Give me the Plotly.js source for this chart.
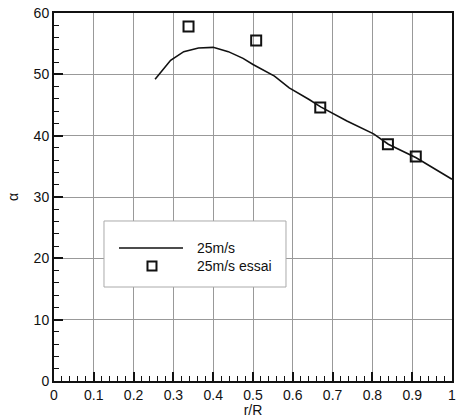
<!DOCTYPE html>
<html>
<head>
<meta charset="utf-8">
<script src="https://cdn.plot.ly/plotly-3.0.1.min.js"></script>
<style>html,body{margin:0;padding:0;background:#fff;}#chart{width:457px;height:418px;}</style>
</head>
<body>
<div id="chart"></div>
<script>
// Computed curve (25 m/s)
const curveR = [0.254, 0.293, 0.326, 0.363, 0.400, 0.438, 0.475, 0.500, 0.554, 0.591, 0.641, 0.670, 0.736, 0.803, 0.840, 0.910, 1.000];
const curveAlpha = [49.2, 52.3, 53.7, 54.3, 54.4, 53.7, 52.6, 51.6, 49.7, 47.8, 45.9, 44.7, 42.4, 40.3, 38.6, 36.4, 32.9];
// Experimental points (25 m/s essai)
const essaiR = [0.338, 0.508, 0.669, 0.839, 0.909];
const essaiAlpha = [57.8, 55.5, 44.6, 38.6, 36.6];
const xTicks = [0, 0.1, 0.2, 0.3, 0.4, 0.5, 0.6, 0.7, 0.8, 0.9, 1];
const xTickText = ['0', '0.1', '0.2', '0.3', '0.4', '0.5', '0.6', '0.7', '0.8', '0.9', '1'];
const yTicks = [0, 10, 20, 30, 40, 50, 60];
const legendNames = ['25m/s', '25m/s essai'];

const FAM = 'Liberation Sans, Arial, sans-serif';
const font = {family: FAM, size: 14, color: '#111'};

const traces = [
  {x: curveR, y: curveAlpha, mode: 'lines', name: legendNames[0],
   line: {color: '#111', width: 1.6}, showlegend: false},
  {x: essaiR, y: essaiAlpha, mode: 'markers', name: legendNames[1],
   marker: {symbol: 'square-open', size: 10, color: '#111', line: {width: 2, color: '#111'}}, showlegend: false}
];

const axisCommon = {
  showline: true, linecolor: '#111', linewidth: 2, mirror: true,
  showgrid: true, gridcolor: '#999', gridwidth: 1,
  zeroline: false, ticks: 'inside', ticklen: 9, tickwidth: 2, tickcolor: '#111',
  tickfont: font, ticklabeloverflow: 'allow'
};

// Custom legend box (paper coordinates)
const shapes = [
  {type: 'rect', xref: 'paper', yref: 'paper', x0: 0.1256, x1: 0.5829, y0: 0.2554, y1: 0.4348,
   line: {color: '#aaa', width: 1}, fillcolor: '#fff', layer: 'above'},
  {type: 'line', xref: 'paper', yref: 'paper', x0: 0.1633, x1: 0.3241, y0: 0.3614, y1: 0.3614,
   line: {color: '#111', width: 1.6}, layer: 'above'},
  {type: 'rect', xref: 'paper', yref: 'paper', x0: 0.2349, x1: 0.2575, y0: 0.3003, y1: 0.3247,
   line: {color: '#111', width: 2}, fillcolor: 'rgba(0,0,0,0)', layer: 'above'}
];
const annotations = [
  {xref: 'paper', yref: 'paper', x: 0.3543, y: 0.3614, xanchor: 'left', yanchor: 'middle',
   text: legendNames[0], showarrow: false, font: font},
  {xref: 'paper', yref: 'paper', x: 0.3543, y: 0.3125, xanchor: 'left', yanchor: 'middle',
   text: legendNames[1], showarrow: false, font: font}
];

const layout = {
  width: 457, height: 418,
  margin: {l: 54, r: 5, t: 13, b: 37},
  paper_bgcolor: '#fff', plot_bgcolor: '#fff',
  font: font,
  showlegend: false,
  shapes: shapes,
  annotations: annotations,
  xaxis: Object.assign({}, axisCommon, {
    range: [0, 1], tickmode: 'array', tickvals: xTicks, ticktext: xTickText,
    minor: {dtick: 0.02, ticks: 'inside', ticklen: 5, tickwidth: 1, tickcolor: '#111', showgrid: false},
    title: {text: 'r/R', font: {family: FAM, size: 14, color: '#111'}, standoff: 4}
  }),
  yaxis: Object.assign({}, axisCommon, {
    range: [0, 60], tickmode: 'array', tickvals: yTicks,
    minor: {dtick: 2, ticks: 'inside', ticklen: 5, tickwidth: 1, tickcolor: '#111', showgrid: false},
    title: {text: 'α', font: {family: FAM, size: 14, color: '#111'}, standoff: 12}
  })
};

Plotly.newPlot('chart', traces, layout, {displayModeBar: false, staticPlot: true});
</script>
</body>
</html>
